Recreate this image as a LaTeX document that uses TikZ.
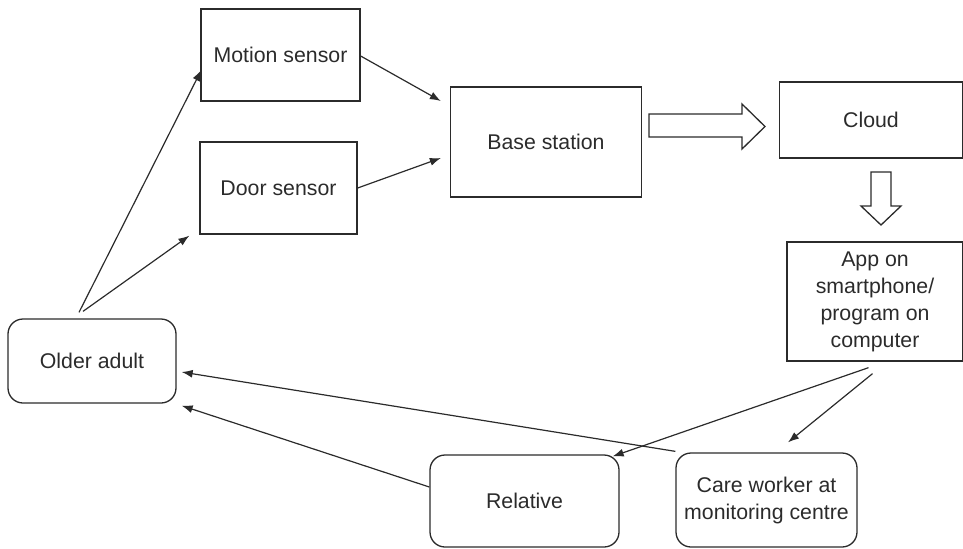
\documentclass[tikz,border=0pt]{standalone}
\usepackage{fontspec}
\setmainfont{Liberation Sans}
\usetikzlibrary{calc,arrows.meta}

\definecolor{ink}{HTML}{2B2B2B}

\tikzset{
  box/.style={draw=ink, line width=0.65pt, inner sep=0pt, align=center,
    text=ink, font=\fontsize{10.65}{13.5}\selectfont},
  roundbox/.style={box, rounded corners=7.5pt},
  arr/.style={draw=ink, line width=0.6pt, -{Latex[length=5.5pt,width=4pt]}},
  blockarrow/.style={draw=ink, line width=0.65pt, fill=white, line join=miter}
}

\begin{document}
\begin{tikzpicture}[x=0.5pt,y=-0.5pt]
  \useasboundingbox (0,0) rectangle (963,548);

  % sensors, base station and cloud
  \node[box, minimum width=79.5pt, minimum height=46pt] (motion) at (280.5,55) {Motion sensor};
  \node[box, minimum width=78.5pt, minimum height=46pt] (door) at (278.5,188) {Door sensor};
  \node[box, minimum width=95.5pt, minimum height=55pt] (base) at (546,142) {Base station};
  \node[box, minimum width=91.5pt, minimum height=38pt] (cloud) at (871,120) {Cloud};
  \node[box, minimum width=88pt, minimum height=59.5pt] (app) at (875,301.5)
    {App on\\smartphone/\\program on\\computer};

  % people
  \node[roundbox, minimum width=84pt, minimum height=42pt] (older) at (92,361) {Older adult};
  \node[roundbox, minimum width=94.5pt, minimum height=46pt] (relative) at (524.5,501) {Relative};
  \node[roundbox, minimum width=90.5pt, minimum height=47pt] (care) at (766.5,500)
    {Care worker at\\monitoring centre};

  % data flow: base station to cloud, cloud to app
  \draw[blockarrow] (649,114) -- (742,114) -- (742,104) -- (765,126.5)
    -- (742,149) -- (742,137) -- (649,137) -- cycle;
  \draw[blockarrow] (871,172) -- (891,172) -- (891,206) -- (901,206)
    -- (881,225) -- (861,206) -- (871,206) -- cycle;

  % older adult triggers the sensors
  \draw[arr] ($(older.north)+(-13,-6)$) -- ($(motion.west)+(1,15)$);
  \draw[arr] ($(older.north)+(-9,-7)$) -- ($(door.south west)+(-10,1)$);

  % sensors report to the base station
  \draw[arr] ($(motion.east)+(0,1)$) -- ($(base.west)+(-9,-41)$);
  \draw[arr] (door.east) -- ($(base.west)+(-9,16)$);

  % app notifies relative and care worker
  \draw[arr] ($(app.south)+(-6.5,6)$) -- ($(relative.north east)+(-7,2)$);
  \draw[arr] ($(app.south)+(-2.5,12)$) -- ($(care.north)+(21.5,-10)$);

  % relative and care worker contact the older adult
  \draw[arr] ($(care.north west)+(0,-1)$) -- ($(older.east)+(5,11)$);
  \draw[arr] ($(relative.west)+(0,-14)$) -- ($(older.south east)+(5,2)$);
\end{tikzpicture}
\end{document}
